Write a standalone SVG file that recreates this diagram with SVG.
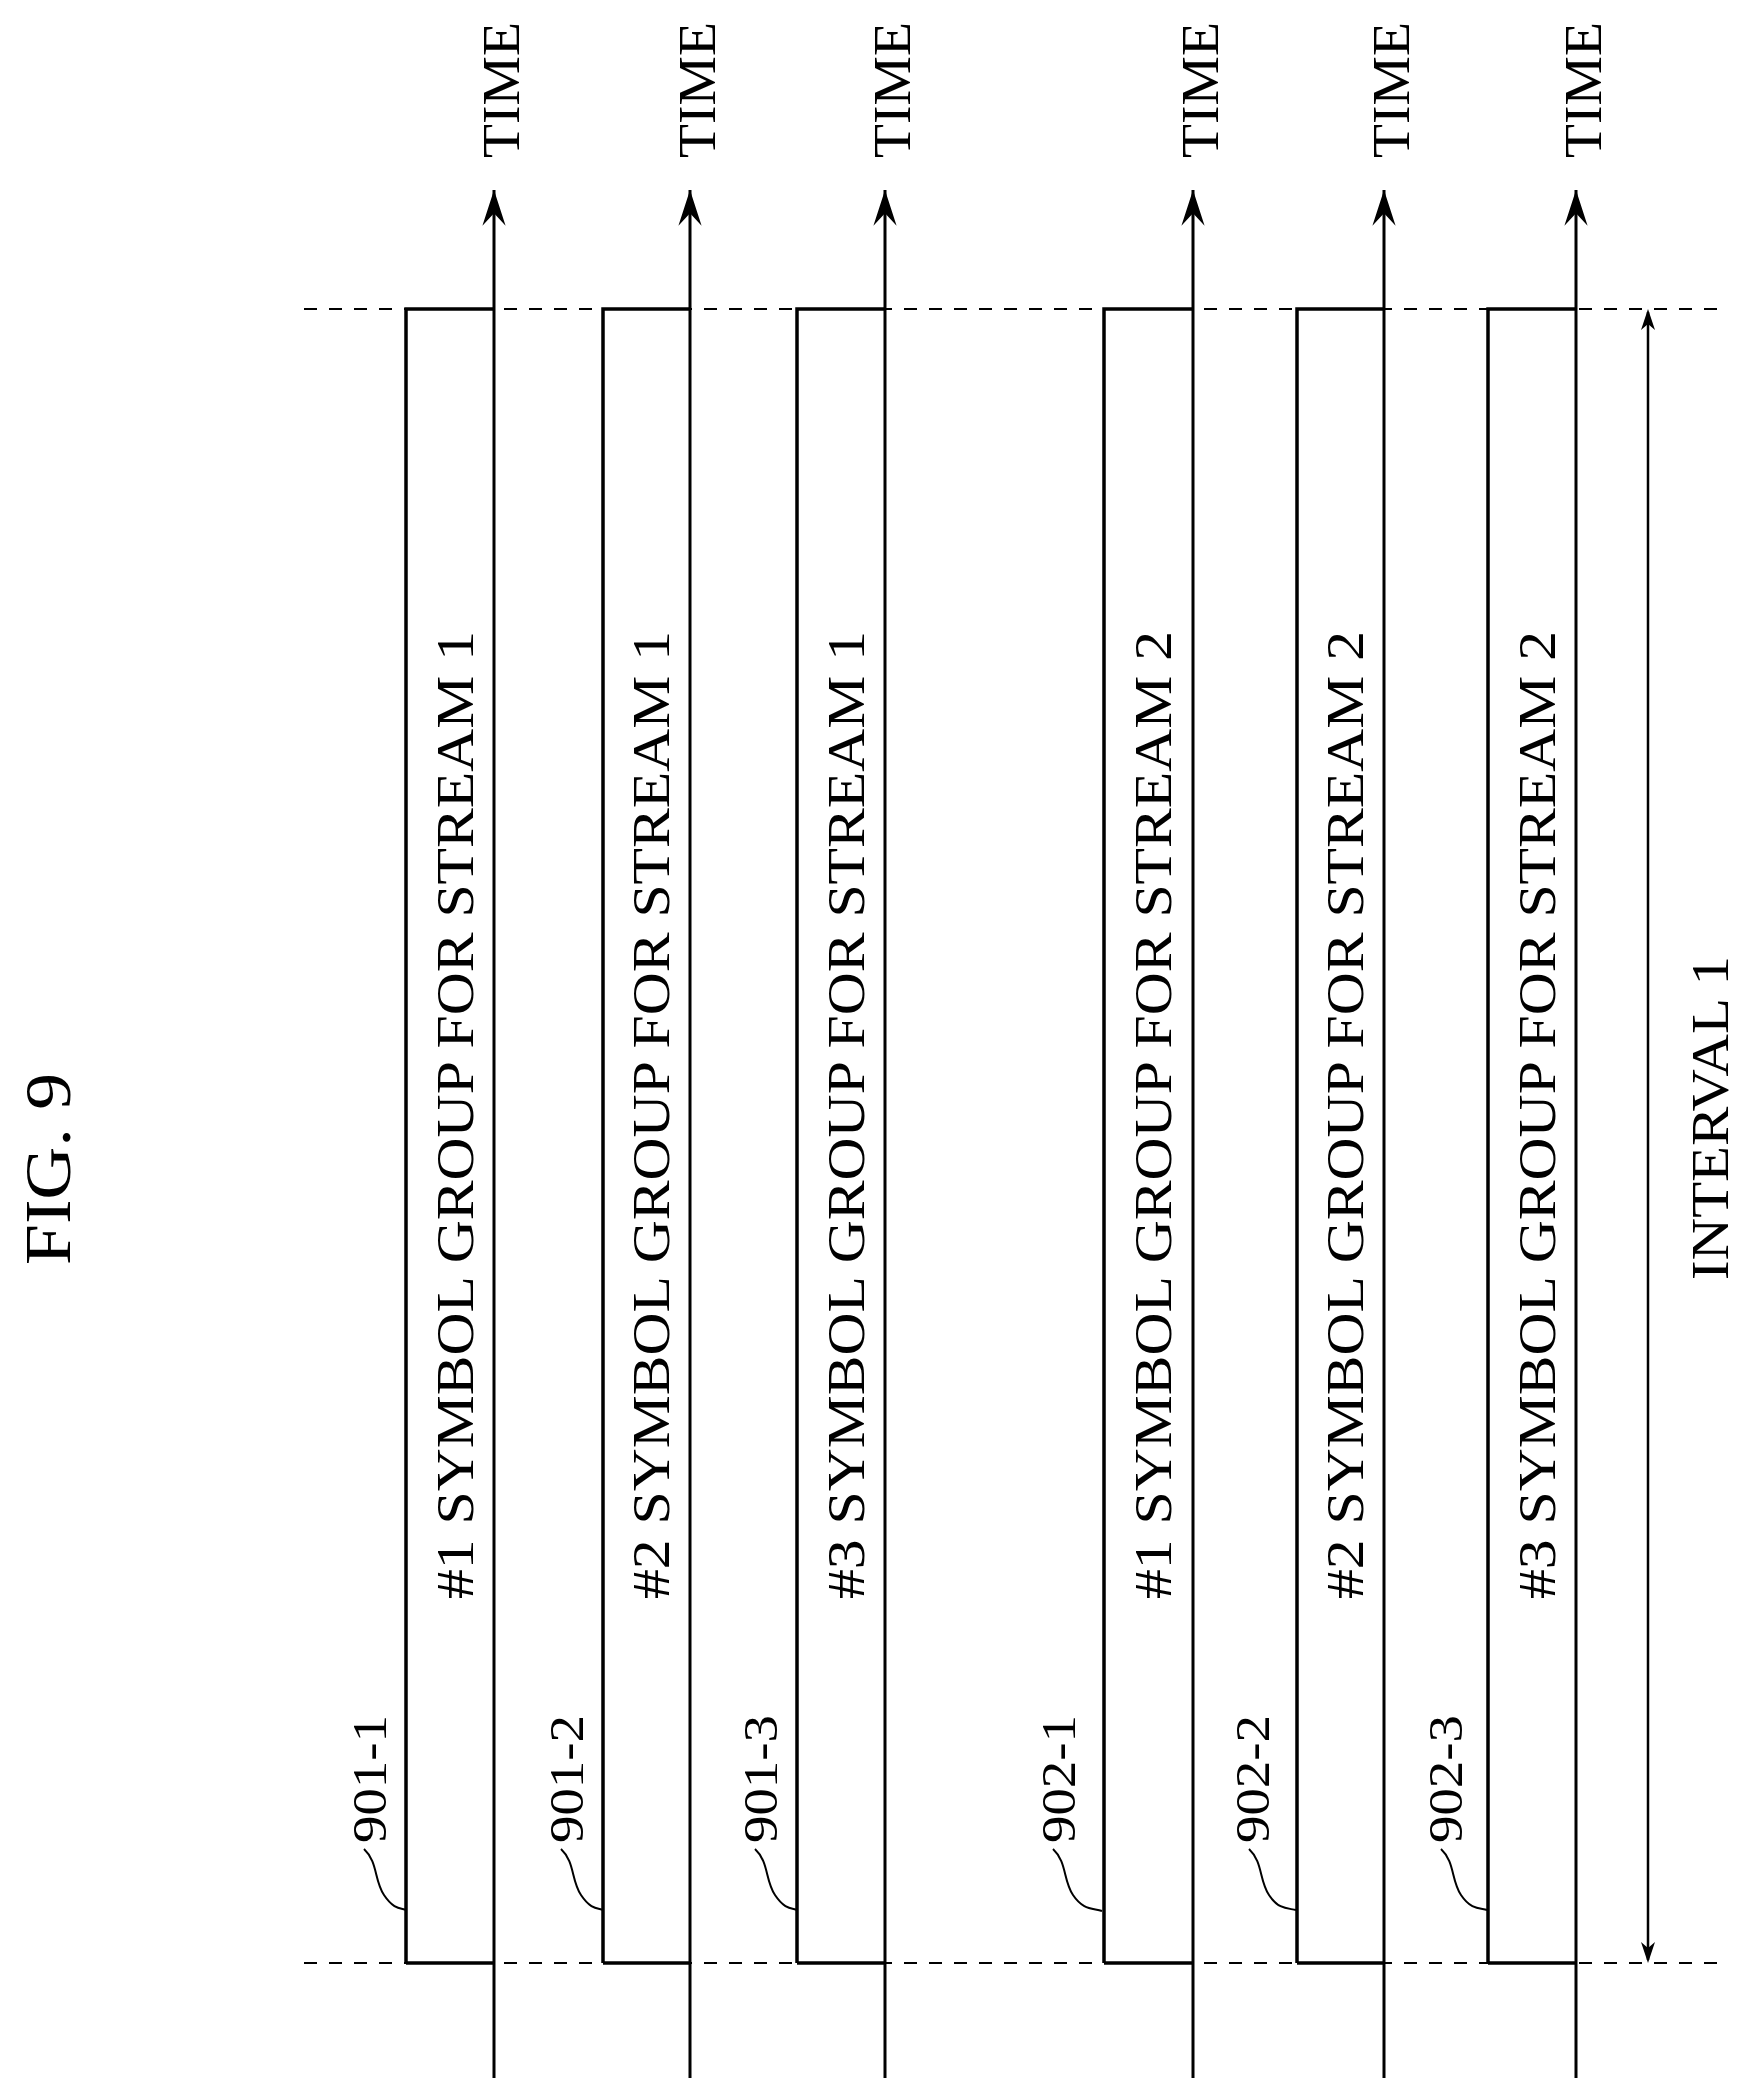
<svg xmlns="http://www.w3.org/2000/svg" width="1749" height="2100" viewBox="0 0 1749 2100">
<style>
text{font-family:"Liberation Serif","DejaVu Serif",serif;fill:#000}
.ln{stroke:#000;stroke-width:3;fill:none}
.box{stroke:#000;stroke-width:3.5;fill:none}
.dash{stroke:#000;stroke-width:2;stroke-dasharray:13 12;fill:none}
.lead{stroke:#000;stroke-width:2;fill:none}
.t{font-size:52px}
</style>
<defs>
<marker id="ah" markerUnits="userSpaceOnUse" markerWidth="40" markerHeight="30" viewBox="-36 -13 38 26" refX="0" refY="0" orient="auto">
<path d="M0,0 L-34,-11 L-22,0 L-34,11 Z" fill="#000"/>
</marker>
</defs>
<text class="t" transform="translate(70,1169) rotate(-90)" text-anchor="middle" style="font-size:66px" textLength="192" lengthAdjust="spacingAndGlyphs">FIG. 9</text>
<g id="guides">
<line class="dash" x1="304" y1="309" x2="1729" y2="309"/>
<line class="dash" x1="304" y1="1963" x2="1729" y2="1963"/>
</g>
<g id="n901-1">
<polyline class="box" points="406,1963 406,309 494,309"/><line class="box" x1="406" y1="1963" x2="494" y2="1963"/>
<text class="t" transform="translate(473,1115) rotate(-90)" text-anchor="middle" textLength="968" lengthAdjust="spacingAndGlyphs">#1 SYMBOL GROUP FOR STREAM 1</text>
<text class="t" transform="translate(386,1779) rotate(-90)" text-anchor="middle" style="font-size:48px" textLength="128" lengthAdjust="spacingAndGlyphs">901-1</text>
<path class="lead" d="M364,1849 C378,1862 374,1880 384,1895 S401,1908 406,1910"/>
</g>
<g id="n901-2">
<polyline class="box" points="603,1963 603,309 690,309"/><line class="box" x1="603" y1="1963" x2="690" y2="1963"/>
<text class="t" transform="translate(669,1115) rotate(-90)" text-anchor="middle" textLength="968" lengthAdjust="spacingAndGlyphs">#2 SYMBOL GROUP FOR STREAM 1</text>
<text class="t" transform="translate(583,1779) rotate(-90)" text-anchor="middle" style="font-size:48px" textLength="128" lengthAdjust="spacingAndGlyphs">901-2</text>
<path class="lead" d="M561,1849 C575,1862 571,1880 581,1895 S598,1908 603,1910"/>
</g>
<g id="n901-3">
<polyline class="box" points="797,1963 797,309 885,309"/><line class="box" x1="797" y1="1963" x2="885" y2="1963"/>
<text class="t" transform="translate(864,1115) rotate(-90)" text-anchor="middle" textLength="968" lengthAdjust="spacingAndGlyphs">#3 SYMBOL GROUP FOR STREAM 1</text>
<text class="t" transform="translate(777,1779) rotate(-90)" text-anchor="middle" style="font-size:48px" textLength="128" lengthAdjust="spacingAndGlyphs">901-3</text>
<path class="lead" d="M755,1849 C769,1862 765,1880 775,1895 S792,1908 797,1910"/>
</g>
<g id="n902-1">
<polyline class="box" points="1104,1963 1104,309 1193,309"/><line class="box" x1="1104" y1="1963" x2="1193" y2="1963"/>
<text class="t" transform="translate(1171,1115) rotate(-90)" text-anchor="middle" textLength="968" lengthAdjust="spacingAndGlyphs">#1 SYMBOL GROUP FOR STREAM 2</text>
<text class="t" transform="translate(1075,1779) rotate(-90)" text-anchor="middle" style="font-size:48px" textLength="128" lengthAdjust="spacingAndGlyphs">902-1</text>
<path class="lead" d="M1053,1849 C1067,1862 1063,1880 1073,1895 S1092,1908 1102,1911"/>
</g>
<g id="n902-2">
<polyline class="box" points="1297,1963 1297,309 1384,309"/><line class="box" x1="1297" y1="1963" x2="1384" y2="1963"/>
<text class="t" transform="translate(1363,1115) rotate(-90)" text-anchor="middle" textLength="968" lengthAdjust="spacingAndGlyphs">#2 SYMBOL GROUP FOR STREAM 2</text>
<text class="t" transform="translate(1269,1779) rotate(-90)" text-anchor="middle" style="font-size:48px" textLength="128" lengthAdjust="spacingAndGlyphs">902-2</text>
<path class="lead" d="M1249,1849 C1263,1862 1259,1880 1269,1895 S1288,1908 1296,1910"/>
</g>
<g id="n902-3">
<polyline class="box" points="1488,1963 1488,309 1576,309"/><line class="box" x1="1488" y1="1963" x2="1576" y2="1963"/>
<text class="t" transform="translate(1555,1115) rotate(-90)" text-anchor="middle" textLength="968" lengthAdjust="spacingAndGlyphs">#3 SYMBOL GROUP FOR STREAM 2</text>
<text class="t" transform="translate(1462,1779) rotate(-90)" text-anchor="middle" style="font-size:48px" textLength="128" lengthAdjust="spacingAndGlyphs">902-3</text>
<path class="lead" d="M1441,1849 C1455,1862 1451,1880 1461,1895 S1480,1908 1487,1910"/>
</g>
<g id="time-labels">
<text class="t" transform="translate(519,90) rotate(-90)" text-anchor="middle" textLength="136" lengthAdjust="spacingAndGlyphs">TIME</text>
<text class="t" transform="translate(715,90) rotate(-90)" text-anchor="middle" textLength="136" lengthAdjust="spacingAndGlyphs">TIME</text>
<text class="t" transform="translate(910,90) rotate(-90)" text-anchor="middle" textLength="136" lengthAdjust="spacingAndGlyphs">TIME</text>
<text class="t" transform="translate(1218,90) rotate(-90)" text-anchor="middle" textLength="136" lengthAdjust="spacingAndGlyphs">TIME</text>
<text class="t" transform="translate(1409,90) rotate(-90)" text-anchor="middle" textLength="136" lengthAdjust="spacingAndGlyphs">TIME</text>
<text class="t" transform="translate(1601,90) rotate(-90)" text-anchor="middle" textLength="136" lengthAdjust="spacingAndGlyphs">TIME</text>
<text class="t" transform="translate(1728,1118) rotate(-90)" text-anchor="middle" textLength="324" lengthAdjust="spacingAndGlyphs">INTERVAL 1</text>
</g>
<g id="connectors">
<line class="ln" x1="494" y1="2078" x2="494" y2="190" marker-end="url(#ah)"/>
<line class="ln" x1="690" y1="2078" x2="690" y2="190" marker-end="url(#ah)"/>
<line class="ln" x1="885" y1="2078" x2="885" y2="190" marker-end="url(#ah)"/>
<line class="ln" x1="1193" y1="2078" x2="1193" y2="190" marker-end="url(#ah)"/>
<line class="ln" x1="1384" y1="2078" x2="1384" y2="190" marker-end="url(#ah)"/>
<line class="ln" x1="1576" y1="2078" x2="1576" y2="190" marker-end="url(#ah)"/>
<path d="M1648,309 L1641,330 L1648,324 L1655,330 Z M1648,1963 L1641,1942 L1648,1948 L1655,1942 Z" fill="#000"/>
<line stroke="#000" stroke-width="2.5" x1="1648" y1="312" x2="1648" y2="1960"/>
</g>
</svg>
